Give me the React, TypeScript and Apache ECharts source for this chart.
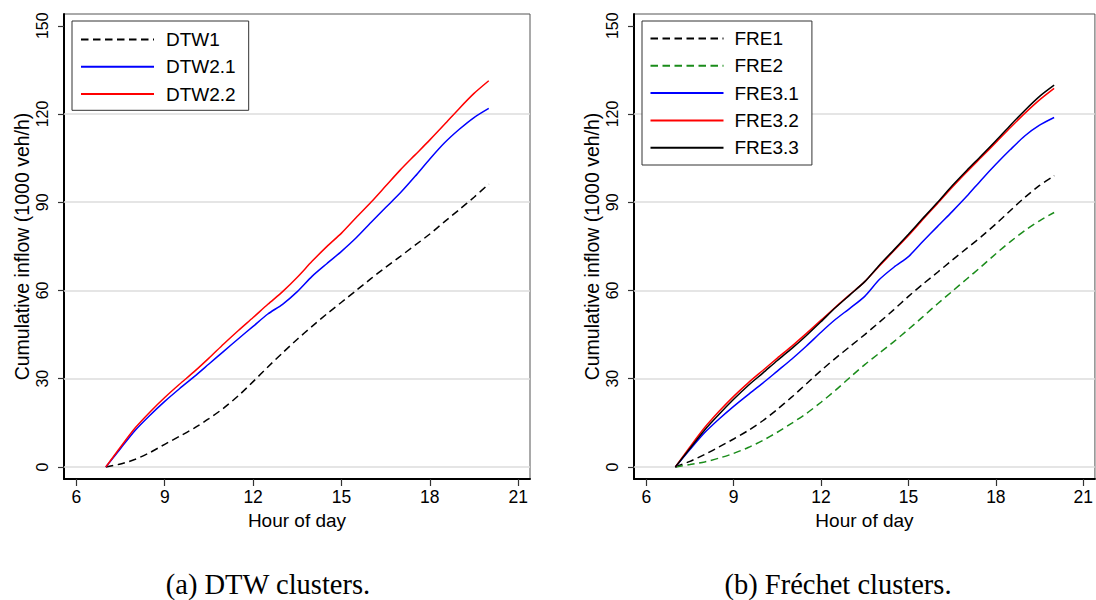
import React, { useEffect, useRef } from "react";
import * as echarts from "echarts";

const HOURS = [7, 7.5, 8, 8.5, 9, 9.5, 10, 10.5, 11, 11.5, 12, 12.5, 13, 13.5, 14, 14.5, 15, 15.5, 16, 16.5, 17, 17.5, 18, 18.5, 19, 19.5, 20];

// Panel (a) DTW clusters
const DTW1 = [0, 1.0, 2.6, 4.9, 7.7, 10.4, 13.2, 16.4, 20.0, 24.2, 29.0, 34.0, 38.8, 43.4, 47.8, 52.0, 56.0, 60.0, 64.0, 67.9, 71.6, 75.4, 79.2, 83.4, 87.5, 91.7, 96.2];
const DTW2_1 = [0, 6.3, 12.5, 17.6, 22.3, 26.6, 30.7, 35.0, 39.3, 43.6, 47.8, 52.0, 55.3, 59.6, 64.8, 69.1, 73.3, 77.9, 83.1, 88.2, 93.2, 98.8, 104.7, 110.2, 114.8, 118.8, 121.9];
const DTW2_2 = [0, 6.8, 13.3, 18.7, 23.6, 28.1, 32.4, 37.0, 41.8, 46.4, 50.8, 55.3, 59.6, 64.5, 69.9, 74.9, 79.5, 84.8, 90.0, 95.5, 101.0, 106.1, 111.2, 116.5, 121.9, 127.0, 131.3];

// Panel (b) Fréchet clusters
const FRE1 = [0, 1.9, 4.2, 6.8, 9.5, 12.4, 15.7, 19.6, 23.8, 28.3, 32.8, 37.0, 41.0, 45.0, 49.2, 53.5, 58.0, 62.2, 66.2, 70.3, 74.3, 78.3, 82.6, 87.2, 91.7, 95.7, 99.0];
const FRE2 = [0, 0.8, 1.7, 3.0, 4.6, 6.6, 9.0, 11.8, 14.9, 18.2, 22.0, 26.1, 30.5, 34.8, 38.7, 42.6, 46.8, 51.1, 55.5, 59.7, 63.9, 68.1, 72.5, 76.6, 80.4, 83.7, 86.5];
const FRE3_1 = [0, 5.9, 11.6, 16.3, 20.6, 24.6, 28.5, 32.6, 36.7, 41.1, 45.8, 50.2, 54.0, 58.0, 63.7, 67.9, 71.5, 76.7, 81.8, 86.8, 92.0, 97.6, 102.9, 107.9, 112.6, 116.2, 118.8];
const FRE3_2 = [0, 6.8, 13.3, 18.9, 24.0, 28.6, 32.8, 37.0, 41.1, 45.4, 49.9, 54.4, 58.7, 63.0, 68.3, 73.5, 78.7, 84.2, 89.6, 95.1, 100.3, 105.3, 110.3, 115.4, 120.3, 124.8, 128.7];
const FRE3_3 = [0, 6.3, 12.5, 17.9, 23.0, 27.7, 31.9, 36.2, 40.3, 44.7, 49.4, 54.2, 58.6, 63.0, 68.6, 73.8, 79.1, 84.6, 90.0, 95.6, 100.8, 105.8, 110.9, 116.2, 121.3, 126.0, 129.8];

const X_TICKS = [6, 9, 12, 15, 18, 21];
const Y_TICKS = [0, 30, 60, 90, 120, 150];
const Y_GRIDLINES = [0, 30, 60, 90, 120];

const X_TITLE = "Hour of day";
const Y_TITLE = "Cumulative inflow (1000 veh/h)";
const CAPTION_A = "(a) DTW clusters.";
const CAPTION_B = "(b) Fréchet clusters.";

const SANS = "'Liberation Sans', Arial, Helvetica, sans-serif";
const SERIF = "'Liberation Serif', 'Times New Roman', serif";

const pairs = (vals: number[]) => HOURS.map((h, i) => [h, vals[i]]);

const DASH = [7.5, 4.5];

function makeXAxis(gridIndex: number) {
  return {
    type: "value",
    gridIndex,
    min: 5.58,
    max: 21.4,
    axisLine: { show: true, onZero: false, lineStyle: { color: "#000", width: 2 } },
    axisTick: { show: true, customValues: X_TICKS, length: 7, lineStyle: { color: "#333", width: 1.2 } },
    axisLabel: { customValues: X_TICKS, fontSize: 17.5, fontFamily: SANS, color: "#000", margin: 9 },
    splitLine: { show: false },
    name: X_TITLE,
    nameLocation: "middle",
    nameGap: 31,
    nameTextStyle: { fontSize: 19, fontFamily: SANS, color: "#000" },
  };
}

function makeYAxis(gridIndex: number) {
  return {
    type: "value",
    gridIndex,
    min: -4.1,
    max: 154,
    axisLine: { show: true, onZero: false, lineStyle: { color: "#000", width: 2 } },
    axisTick: { show: true, customValues: Y_TICKS, length: 6, lineStyle: { color: "#333", width: 1.2 } },
    axisLabel: { customValues: Y_TICKS, rotate: 90, fontSize: 16, fontFamily: SANS, color: "#000", margin: 14 },
    splitLine: { show: false },
    name: Y_TITLE,
    nameLocation: "middle",
    nameGap: 32,
    nameRotate: 90,
    nameTextStyle: { fontSize: 19.5, fontFamily: SANS, color: "#000" },
  };
}

const gridMarkLine = {
  silent: true,
  z: 1,
  symbol: ["none", "none"],
  label: { show: false },
  lineStyle: { color: "#dcdcdc", width: 1.5, type: "solid" },
  data: Y_GRIDLINES.map((v) => ({ yAxis: v })),
};

function lineSeries(name: string, vals: number[], color: string, dashed: boolean, gi: number, withGrid = false) {
  const s: any = {
    type: "line",
    name,
    xAxisIndex: gi,
    yAxisIndex: gi,
    data: pairs(vals),
    symbol: "none",
    showSymbol: false,
    smooth: 0.25,
    z: 3,
    lineStyle: { color, width: 1.5, type: dashed ? DASH : "solid" },
    itemStyle: { color },
  };
  if (withGrid) s.markLine = gridMarkLine;
  return s;
}

function makeLegend(names: string[], left: number, top: number, padding: number[], textPadLeft: number) {
  return {
    data: names,
    orient: "vertical",
    left,
    top,
    padding,
    itemWidth: 73,
    itemHeight: 19,
    itemGap: 8.3,
    borderColor: "#333",
    borderWidth: 1,
    borderRadius: 0,
    backgroundColor: "#fff",
    selectedMode: false,
    itemStyle: { opacity: 0 },
    textStyle: { fontSize: 19, fontFamily: SANS, color: "#000", padding: [0, 0, 0, textPadLeft] },
  };
}

export default function App() {
  const ref = useRef<HTMLDivElement>(null);
  useEffect(() => {
    if (!ref.current) return;
    const chart = echarts.init(ref.current, undefined, { renderer: "svg" });
    chart.setOption({
      animation: false,
      backgroundColor: "#fff",
      grid: [
        { left: 64, top: 14, width: 466, height: 465, show: true, borderColor: "#555", borderWidth: 1, backgroundColor: "transparent" },
        { left: 634, top: 14, width: 466, height: 465, show: true, borderColor: "#555", borderWidth: 1, backgroundColor: "transparent" },
      ],
      xAxis: [makeXAxis(0), makeXAxis(1)],
      yAxis: [makeYAxis(0), makeYAxis(1)],
      legend: [
        makeLegend(["DTW1", "DTW2.1", "DTW2.2"], 72, 21, [9, 13, 6.7, 8], 7),
        makeLegend(["FRE1", "FRE2", "FRE3.1", "FRE3.2", "FRE3.3"], 642, 21, [8, 13, 7.8, 7.5], 6),
      ],
      series: [
        lineSeries("DTW1", DTW1, "#000000", true, 0, true),
        lineSeries("DTW2.1", DTW2_1, "#0000ff", false, 0),
        lineSeries("DTW2.2", DTW2_2, "#ff0000", false, 0),
        lineSeries("FRE1", FRE1, "#000000", true, 1, true),
        lineSeries("FRE2", FRE2, "#1a8c1a", true, 1),
        lineSeries("FRE3.1", FRE3_1, "#0000ff", false, 1),
        lineSeries("FRE3.2", FRE3_2, "#ff0000", false, 1),
        lineSeries("FRE3.3", FRE3_3, "#000000", false, 1),
      ],
      graphic: [
        { type: "text", x: 268, y: 584, style: { text: CAPTION_A, font: `28.5px ${SERIF}`, fill: "#000", textAlign: "center", textVerticalAlign: "middle" } },
        { type: "text", x: 838, y: 584, style: { text: CAPTION_B, font: `28.5px ${SERIF}`, fill: "#000", textAlign: "center", textVerticalAlign: "middle" } },
      ],
    });
    return () => chart.dispose();
  }, []);
  return <div ref={ref} style={{ position: "absolute", left: 0, top: 0, width: 1096, height: 600 }} />;
}
